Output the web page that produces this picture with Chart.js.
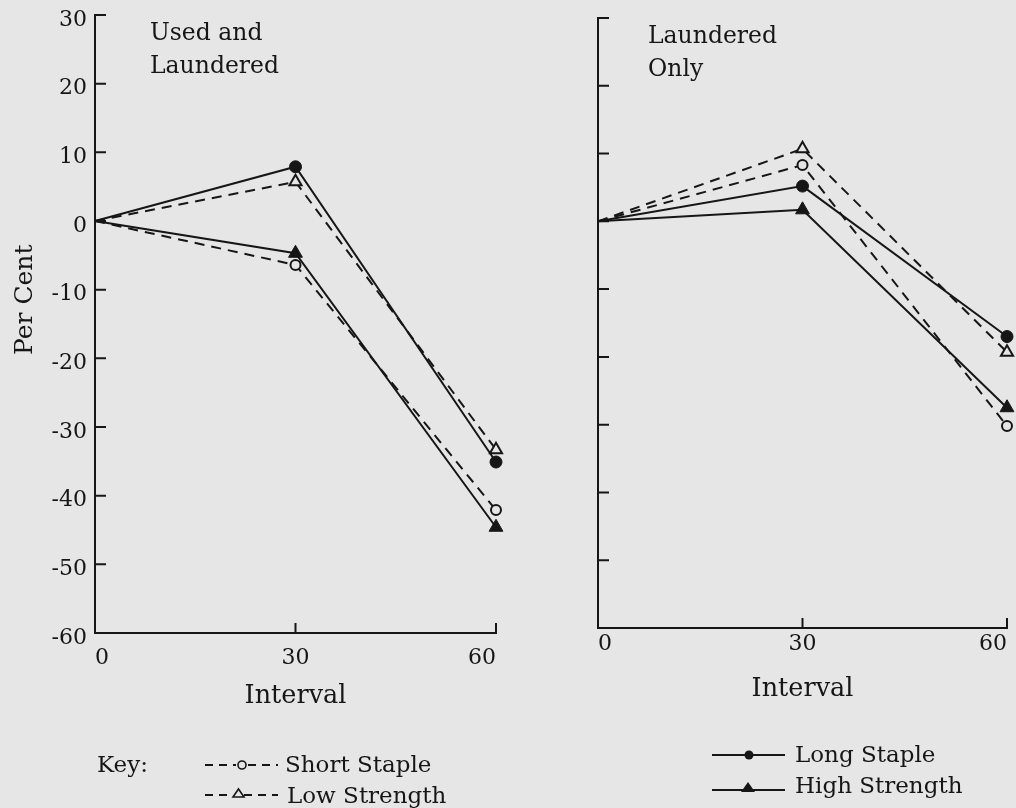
<!DOCTYPE html>
<html>
<head>
<meta charset="utf-8">
<script src="https://cdn.jsdelivr.net/npm/chart.js@4.4.0/dist/chart.umd.min.js"></script>
<style>
html,body{margin:0;padding:0;background:#e6e6e6;width:1016px;height:808px;overflow:hidden;}
#wrapL{position:absolute;left:0;top:0;width:510px;height:720px;}
#wrapR{position:absolute;left:510px;top:0;width:506px;height:720px;}
.txt{position:absolute;font-family:"DejaVu Serif",serif;color:#161616;white-space:nowrap;}
.ttl{font-size:23.5px;line-height:33px;}
.lg{font-size:23px;line-height:23px;}
#perCent{font-size:25px;line-height:25px;transform-origin:0 0;transform:rotate(-90deg);}
#marks{position:absolute;left:0;top:0;pointer-events:none;}
</style>
</head>
<body>
<div id="wrapL"><canvas id="chartL"></canvas></div>
<div id="wrapR"><canvas id="chartR"></canvas></div>
<canvas id="marks" width="1016" height="808"></canvas>

<div class="txt ttl" style="left:150px;top:16px;">Used and<br>Laundered</div>
<div class="txt ttl" style="left:648px;top:19px;">Laundered<br>Only</div>
<div class="txt" id="perCent" style="left:11px;top:355px;">Per Cent</div>

<div class="txt lg" style="left:97px;top:753px;">Key:</div>
<div class="txt lg" style="left:285px;top:753px;">Short Staple</div>
<div class="txt lg" style="left:287px;top:784px;">Low Strength</div>
<div class="txt lg" style="left:795px;top:743px;">Long Staple</div>
<div class="txt lg" style="left:795px;top:774px;">High Strength</div>

<script>
// ---------- data ----------
const intervals = [0, 30, 60];
const xTickValues = [0, 30, 60];
const yTickValues = [30, 20, 10, 0, -10, -20, -30, -40, -50, -60];
const seriesNames = ['Short Staple', 'Low Strength', 'Long Staple', 'High Strength'];

// Used and Laundered
const shortStapleUL  = [0, -6.4, -42.1];
const lowStrengthUL  = [0,  5.7, -33.3];
const longStapleUL   = [0,  7.9, -35.1];
const highStrengthUL = [0, -4.7, -44.6];

// Laundered Only
const shortStapleLO  = [0,  8.3, -30.2];
const lowStrengthLO  = [0, 10.7, -19.3];
const longStapleLO   = [0,  5.2, -17.0];
const highStrengthLO = [0,  1.7, -27.5];

// ---------- styling ----------
const INK = '#161616';
const BG = '#e6e6e6';
const FONT = '"DejaVu Serif", serif';

function pts(arr){ return intervals.map((x,i)=>({x:x, y:arr[i]})); }

function makeDatasets(ss, ls, lg, hs){
  const base = {borderColor:INK, borderWidth:2, tension:0, clip:false, fill:false};
  return [
    Object.assign({}, base, {label:seriesNames[0], data:pts(ss), borderDash:[10,7],
      pointStyle:'circle', pointRadius:[0,5,5], pointBackgroundColor:BG, pointBorderColor:INK, pointBorderWidth:2}),
    Object.assign({}, base, {label:seriesNames[1], data:pts(ls), borderDash:[10,7],
      pointStyle:'triangle', pointRadius:[0,7,7], pointBackgroundColor:BG, pointBorderColor:INK, pointBorderWidth:2}),
    Object.assign({}, base, {label:seriesNames[2], data:pts(lg),
      pointStyle:'circle', pointRadius:[0,6,6], pointBackgroundColor:INK, pointBorderColor:INK, pointBorderWidth:1}),
    Object.assign({}, base, {label:seriesNames[3], data:pts(hs),
      pointStyle:'triangle', pointRadius:[0,8,8], pointBackgroundColor:INK, pointBorderColor:INK, pointBorderWidth:1})
  ];
}

const framePlugin = {
  id:'frame',
  beforeDatasetsDraw(chart){
    const {ctx, scales:{x, y}} = chart;
    const x0 = x.getPixelForValue(0), x60 = x.getPixelForValue(60);
    const yTop = y.getPixelForValue(30), yBot = y.getPixelForValue(-60);
    ctx.save();
    ctx.strokeStyle = INK; ctx.lineWidth = 2; ctx.lineCap = 'square';
    ctx.beginPath();
    ctx.moveTo(x0, yTop); ctx.lineTo(x0, yBot); ctx.lineTo(x60, yBot);
    yTickValues.forEach(v=>{ if(v===-60) return; const p=y.getPixelForValue(v); ctx.moveTo(x0,p); ctx.lineTo(x0+10,p); });
    [30,60].forEach(v=>{ const p=x.getPixelForValue(v); ctx.moveTo(p,yBot); ctx.lineTo(p,yBot-9); });
    ctx.stroke();
    ctx.restore();
  }
};

function makeChart(id, datasets, o){
  return new Chart(document.getElementById(id), {
    type:'line',
    data:{datasets:datasets},
    plugins:[framePlugin],
    options:{
      responsive:true, maintainAspectRatio:false, animation:false,
      layout:{padding:{left:0, top:o.top, right:o.right, bottom:0}},
      plugins:{legend:{display:false}, tooltip:{enabled:false}, title:{display:false}},
      scales:{
        x:{type:'linear', min:0, max:60,
          afterBuildTicks(s){ s.ticks = xTickValues.map(v=>({value:v})); },
          afterFit(s){ s.height = o.xh; s.paddingLeft = 0; s.paddingRight = 0; },
          grid:{display:false, drawTicks:false}, border:{display:false},
          ticks:{color:INK, font:{family:FONT, size:22}, padding:o.xpad, align:'inner', maxRotation:0},
          title:{display:true, text:'Interval', color:INK, font:{family:FONT, size:25.5}, padding:{top:0, bottom:o.tpad}}
        },
        y:{type:'linear', min:-60, max:30,
          afterBuildTicks(s){ s.ticks = yTickValues.map(v=>({value:v})); },
          afterFit(s){ s.width = o.yw; s.paddingTop = 0; s.paddingBottom = 0; },
          grid:{display:false, drawTicks:false}, border:{display:false},
          ticks:{display:o.ylabels, color:INK, font:{family:FONT, size:22}, padding:8, labelOffset:5}
        }
      }
    }
  });
}

makeChart('chartL', makeDatasets(shortStapleUL, lowStrengthUL, longStapleUL, highStrengthUL),
  {top:15, right:14, xh:87, yw:95, xpad:12, tpad:8, ylabels:true});
makeChart('chartR', makeDatasets(shortStapleLO, lowStrengthLO, longStapleLO, highStrengthLO),
  {top:18, right:6, xh:92, yw:88, xpad:3, tpad:15, ylabels:false});

// ---------- key samples ----------
(function(){
  const c = document.getElementById('marks').getContext('2d');
  c.strokeStyle = INK; c.fillStyle = INK; c.lineWidth = 2;
  function dashed(y, x1, x2){ c.save(); c.setLineDash([8,6]); c.beginPath(); c.moveTo(x1,y); c.lineTo(x2,y); c.stroke(); c.restore(); }
  function solid(y, x1, x2){ c.beginPath(); c.moveTo(x1,y); c.lineTo(x2,y); c.stroke(); }
  // Short Staple
  dashed(765, 205, 236); dashed(765, 248, 278);
  c.beginPath(); c.arc(242, 765, 4, 0, Math.PI*2); c.fillStyle=BG; c.fill(); c.lineWidth=1.6; c.stroke(); c.lineWidth=2; c.fillStyle=INK;
  // Low Strength
  dashed(795, 205, 233); dashed(795, 244, 278);
  c.beginPath(); c.moveTo(238.5, 789); c.lineTo(244, 797); c.lineTo(233, 797); c.closePath(); c.fillStyle=BG; c.fill(); c.lineWidth=1.6; c.stroke(); c.lineWidth=2; c.fillStyle=INK;
  // Long Staple
  solid(755, 712, 785); c.beginPath(); c.arc(749, 755, 4.5, 0, Math.PI*2); c.fill();
  // High Strength
  solid(790, 712, 785); c.beginPath(); c.moveTo(748, 782); c.lineTo(755, 792); c.lineTo(741, 792); c.closePath(); c.fill();
})();
</script>
</body>
</html>
